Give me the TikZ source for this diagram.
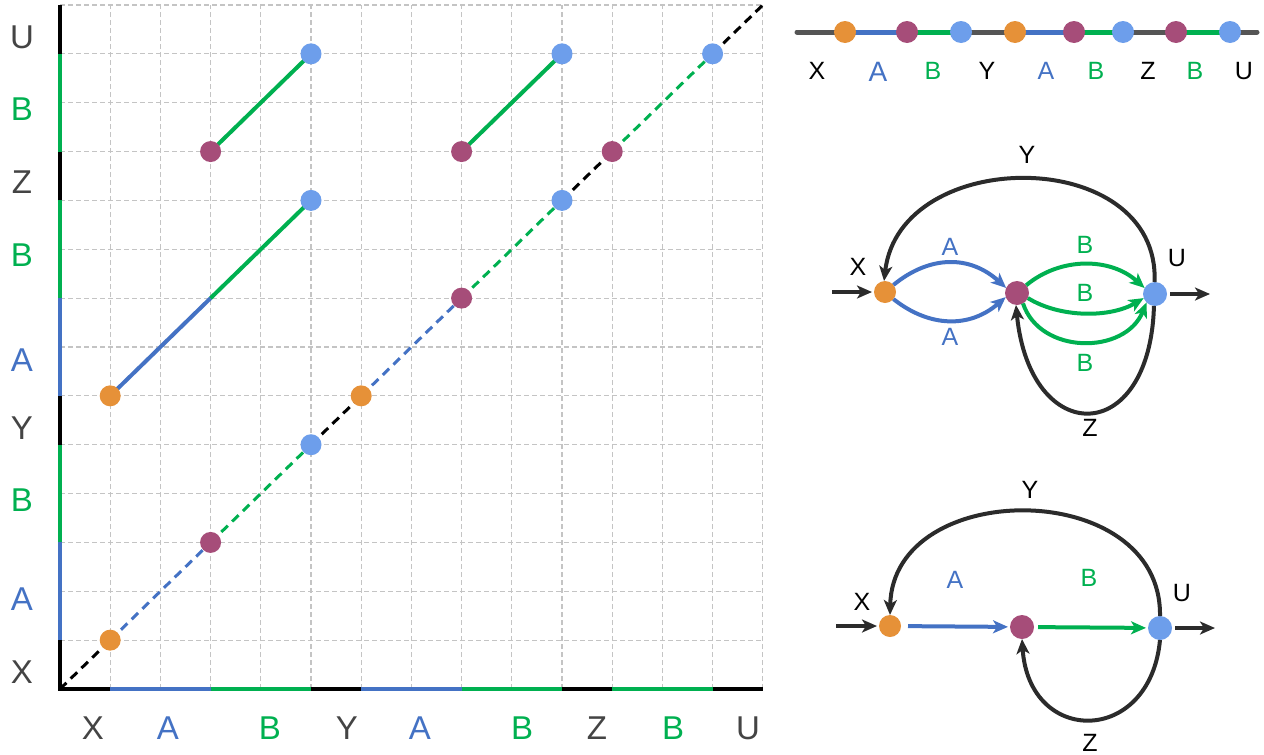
\documentclass[tikz,border=0pt]{standalone}
\usepackage{fontspec}
\setmainfont{Liberation Sans}
\usetikzlibrary{arrows.meta}
\definecolor{cor}{HTML}{E69138}
\definecolor{cpu}{HTML}{A64D79}
\definecolor{cbl}{HTML}{6D9EEB}
\definecolor{lbl}{HTML}{4472C4}
\definecolor{lgr}{HTML}{00B050}
\definecolor{grd}{HTML}{C4C4C4}
\definecolor{txg}{HTML}{444444}
\definecolor{ark}{HTML}{2B2B2B}
\definecolor{strip}{HTML}{555555}
\begin{document}
\begin{tikzpicture}[x=1pt,y=-1pt,
  dot/.style={circle,inner sep=0pt,outer sep=0pt,minimum size=21pt,fill=#1},
  big/.style={font=\fontsize{33}{36}\selectfont,inner sep=0pt},
  sml/.style={font=\fontsize{25}{28}\selectfont,inner sep=0pt},
  gridline/.style={grd,line width=1.2pt,dash pattern=on 5pt off 3pt},
  axisline/.style={line width=4pt},
  diag/.style={line width=3pt,dash pattern=on 9pt off 6pt},
  seg/.style={line width=4pt},
  edge/.style={line width=4pt,-{Stealth[length=15pt,width=13pt,inset=4pt]}},
]
\useasboundingbox (0,0) rectangle (1264,755);

% ---------- left plot ----------
\begin{scope}[shift={(60,689)},x=50.2pt,y=48.86pt]
  \foreach \i in {1,...,14} \draw[gridline] (\i,0) -- (\i,14);
  \foreach \j in {1,...,14} \draw[gridline] (0,\j) -- (14,\j);
  \foreach \k in {0,1,3,5,6,8,10,11,13,14} {
    \coordinate (g\k) at (\k,\k);
    \coordinate (ya\k) at (0,\k);
    \coordinate (xa\k) at (\k,0);
  }
  % diagonal
  \foreach \a/\b/\c in {0/1/black,1/3/lbl,3/5/lgr,5/6/black,6/8/lbl,8/10/lgr,10/11/black,11/13/lgr,13/14/black}
    \draw[diag,\c] (g\a) -- (g\b);
  % axes
  \draw[axisline,black,line join=miter] (ya1) -- (ya0) -- (xa1);
  \foreach \a/\b/\c in {1/3/lbl,3/5/lgr,5/6/black,6/8/lbl,8/10/lgr,10/11/black,11/13/lgr,13/14/black} {
    \draw[axisline,\c] (ya\a) -- (ya\b);
    \draw[axisline,\c] (xa\a) -- (xa\b);
  }
  % off-diagonal
  \coordinate (q1) at (1,6);
  \coordinate (m1) at (3,8);
  \coordinate (q2) at (5,10);
  \coordinate (q3) at (3,11);
  \coordinate (q4) at (5,13);
  \coordinate (q5) at (8,11);
  \coordinate (q6) at (10,13);
  \draw[seg,lbl] (q1) -- (m1);
  \draw[seg,lgr] (m1) -- (q2);
  \draw[seg,lgr] (q3) -- (q4);
  \draw[seg,lgr] (q5) -- (q6);
  % dots
  \node[dot=cor] (dg1) at (g1) {};
  \node[dot=cpu] (dg3) at (g3) {};
  \node[dot=cbl] (dg5) at (g5) {};
  \node[dot=cor] (dg6) at (g6) {};
  \node[dot=cpu] (dg8) at (g8) {};
  \node[dot=cbl] (dg10) at (g10) {};
  \node[dot=cpu] (dg11) at (g11) {};
  \node[dot=cbl] (dg13) at (g13) {};
  \node[dot=cor] (dq1) at (q1) {};
  \node[dot=cbl] (dq2) at (q2) {};
  \node[dot=cpu] (dq3) at (q3) {};
  \node[dot=cbl] (dq4) at (q4) {};
  \node[dot=cpu] (dq5) at (q5) {};
  \node[dot=cbl] (dq6) at (q6) {};
\end{scope}

\foreach \t/\xx/\c [count=\n] in {X/93/txg,A/168/lbl,B/270/lgr,Y/347/txg,A/420/lbl,B/522/lgr,Z/597/txg,B/673/lgr,U/748/txg}
  \node[big,text=\c] (bl\n) at (\xx,728) {\t};
\foreach \t/\yy/\c [count=\n] in {U/37/txg,B/109/lgr,Z/182/txg,B/255/lgr,A/360/lbl,Y/428/txg,B/500/lgr,A/599/lbl,X/672/txg}
  \node[big,text=\c] (ll\n) at (22,\yy) {\t};

% ---------- top strip ----------
\coordinate (s0) at (797,32);
\coordinate (s9) at (1257,32);
\foreach \xx [count=\n] in {845,907,961,1015,1074,1123,1176,1230}
  \coordinate (s\n) at (\xx,32);
\draw[strip,line width=5pt,line cap=round] (s0) -- (s9);
\draw[lbl,line width=5pt] (s1) -- (s2);
\draw[lgr,line width=5pt] (s2) -- (s3);
\draw[lbl,line width=5pt] (s4) -- (s5);
\draw[lgr,line width=5pt] (s5) -- (s6);
\draw[lgr,line width=5pt] (s7) -- (s8);
\foreach \c [count=\n] in {cor,cpu,cbl,cor,cpu,cbl,cpu,cbl}
  \node[dot=\c,minimum size=22pt] (sd\n) at (s\n) {};
\node[font=\fontsize{28}{30}\selectfont,inner sep=0pt,text=lbl] (st2) at (878,72) {A};
\foreach \t/\xx/\c [count=\n] in {X/817/black,B/933/lgr,Y/987/black,A/1046/lbl,B/1096/lgr,Z/1148/black,B/1195/lgr,U/1244/black}
  \node[sml,text=\c] (st\n x) at (\xx,71) {\t};

% ---------- middle graph ----------
\node[dot=cor,minimum size=22pt] (x0) at (885,292) {};
\node[dot=cpu,minimum size=24pt] (p0) at (1017,293) {};
\node[dot=cbl,minimum size=24pt] (u0) at (1155,294) {};
\coordinate (in0) at (832,292);
\coordinate (out0) at (1210,294);
\draw[edge,ark,shorten >=2pt] (in0) -- (x0);
\draw[edge,ark,shorten <=3pt] (u0) -- (out0);
\draw[edge,ark] (u0.92) .. controls (1160,145) and (900,145) .. (x0.95);
\draw[edge,lbl] (x0.40) .. controls (930,255) and (970,255) .. (p0.155);
\draw[edge,lbl] (x0.-40) .. controls (930,328) and (970,328) .. (p0.-160);
\draw[edge,lgr] (p0.40) .. controls (1060,257) and (1110,257) .. (u0.150);
\draw[edge,lgr] (p0.-25) .. controls (1060,318) and (1110,318) .. (u0.-160);
\draw[edge,lgr] (p0.-60) .. controls (1040,355) and (1125,355) .. (u0.-135);
\draw[edge,ark] (u0.-95) .. controls (1150,448) and (1030,448) .. (p0.-95);
\node[sml] (m1y) at (1027,155) {Y};
\node[sml] (m1x) at (858,267) {X};
\node[sml] (m1u) at (1177,258) {U};
\node[sml,text=lbl] (m1a) at (950,247) {A};
\node[sml,text=lbl] (m2a) at (950,337) {A};
\node[sml,text=lgr] (m1b) at (1085,245) {B};
\node[sml,text=lgr] (m2b) at (1085,293) {B};
\node[sml,text=lgr] (m3b) at (1085,363) {B};
\node[sml] (m1z) at (1090,428) {Z};

% ---------- bottom graph ----------
\node[dot=cor,minimum size=22pt] (x1) at (890,626) {};
\node[dot=cpu,minimum size=24pt] (p1) at (1022,627) {};
\node[dot=cbl,minimum size=24pt] (u1) at (1160,628) {};
\coordinate (in1) at (836,626);
\coordinate (out1) at (1215,628);
\draw[edge,ark,shorten >=2pt] (in1) -- (x1);
\draw[edge,ark,shorten <=3pt] (u1) -- (out1);
\draw[edge,lbl,shorten <=7pt,shorten >=2pt] (x1) -- (p1);
\draw[edge,lgr,shorten <=4pt,shorten >=2pt] (p1) -- (u1);
\draw[edge,ark] (u1.90) .. controls (1162,477) and (893,477) .. (x1.90);
\draw[edge,ark] (u1.-90) .. controls (1150,746) and (1029,746) .. (p1.-90);
\node[sml] (b1y) at (1030,490) {Y};
\node[sml] (b1x) at (862,602) {X};
\node[sml] (b1u) at (1182,593) {U};
\node[sml,text=lbl] (b1a) at (955,580) {A};
\node[sml,text=lgr] (b1b) at (1089,578) {B};
\node[sml] (b1z) at (1090,743) {Z};
\end{tikzpicture}
\end{document}
